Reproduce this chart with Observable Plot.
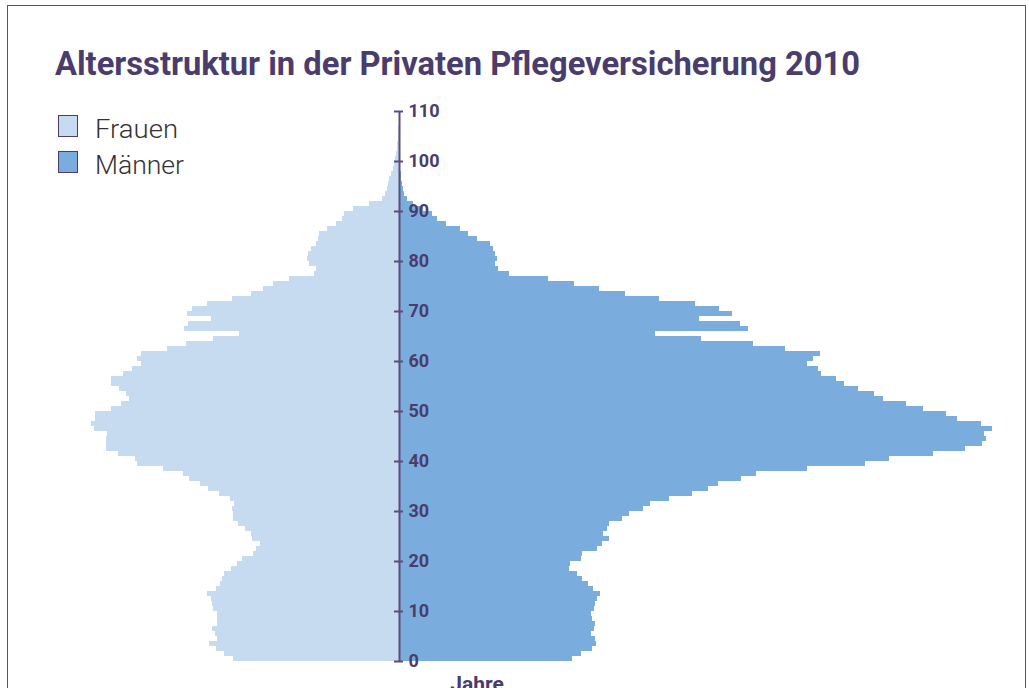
<!DOCTYPE html>
<html>
<head>
<meta charset="utf-8">
<script src="https://cdn.jsdelivr.net/npm/d3@7"></script>
<script src="https://cdn.jsdelivr.net/npm/@observablehq/plot@0.6"></script>
<style>
  html, body { margin: 0; padding: 0; background: #fff; overflow: hidden; }
  #wrap { position: relative; width: 1029px; height: 688px; overflow: hidden; }
  #frame { position: absolute; left: 7px; top: 5px; width: 1019px; height: 720px;
           border: 1.5px solid #5d4d7d; box-sizing: border-box; }
  #chart { position: absolute; left: 0; top: 0; }
  .fit { position: absolute; white-space: nowrap; transform-origin: 0 0; line-height: 1; }
  #title { left: 55px; top: 44px; font: 700 33px Roboto, sans-serif; color: #4a3c6c; }
  .sw { position: absolute; left: 58px; width: 20px; height: 22px; box-sizing: border-box;
        border: 1.5px solid #4a3c6c; }
  .lab { left: 95px; font: 300 26px Roboto, sans-serif; color: #333; }
</style>
</head>
<body>
<div id="wrap">
  <div id="frame"></div>
  <div id="chart"></div>
  <div id="title" class="fit" data-w="805">Altersstruktur in der Privaten Pflegeversicherung 2010</div>
  <div class="sw" id="sw0" style="top:115px"></div>
  <div class="lab fit" id="lab0" data-w="83" style="top:114px"></div>
  <div class="sw" id="sw1" style="top:151px"></div>
  <div class="lab fit" id="lab1" data-w="89" style="top:150px"></div>
</div>
<script>
// Series (categories)
const sexes = ["Frauen", "Männer"];
const colors = ["#c6dbf0", "#7aaddd"];
// Age categories 0..110 (one bar per year of age)
const ages = d3.range(0, 111);
// Frauen, age 0..110 (relative counts)
const frauen = [
  166,175,183,190,182,184,187,182,182,182,
  186,187,188,192,183,179,177,175,168,162,
  157,146,143,139,147,148,154,161,166,166,
  167,165,169,180,191,199,210,216,236,262,
  264,281,293,293,293,292,305,308,304,304,
  288,278,270,273,280,288,288,276,267,258,
  262,258,232,213,186,160,215,211,188,212,
  207,192,167,148,136,126,110,85,83,90,
  92,91,88,83,81,80,72,63,57,55,
  46,30,17,14,12,11,10,8,6,5,
  4,3,2.3,1.7,1.3,1,0.7,0.5,0.3,0.2,
  0.1
];
// Männer, age 0..110
const maenner = [
  173,182,193,197,196,192,195,196,193,192,
  195,196,198,201,194,189,183,178,170,171,
  182,183,198,203,210,204,208,210,223,230,
  244,251,270,293,309,319,342,357,408,466,
  490,534,566,583,587,585,593,582,558,547,
  524,507,484,475,459,445,437,422,419,408,
  414,421,386,354,302,256,349,341,300,333,
  320,296,260,226,200,175,149,110,99,96,
  98,96,94,91,78,69,61,47,38,33,
  24,14,8,5,3.5,2.5,2,1.5,1.2,1,
  0.8,0.6,0.5,0.4,0.3,0.2,0.2,0.1,0.1,0.1,
  0.1
];
const yTicks = [0,10,20,30,40,50,60,70,80,90,100,110];
const axisLabel = "Jahre";

const data = ages.flatMap((a, i) => [
  {age: a, sex: sexes[0], v: -frauen[i]},
  {age: a, sex: sexes[1], v: maenner[i]}
]);

const purple = "#4a3c6c";
const chart = Plot.plot({
  width: 1029, height: 688,
  marginTop: 0, marginBottom: 27, marginLeft: 0, marginRight: 0,
  x: {domain: [-399, 630], range: [0, 1029], axis: null},
  y: {domain: [0, 111], range: [661, 106], axis: null},
  color: {domain: sexes, range: colors},
  style: {background: "transparent", overflow: "visible"},
  marks: [
    Plot.rect(data, {x1: 0, x2: "v", y1: "age", y2: d => d.age + 1, fill: "sex", shapeRendering: "crispEdges"}),
    Plot.ruleX([0], {y1: 0, y2: 110, stroke: "#5d4d7d", strokeWidth: 2}),
    Plot.ruleY(yTicks, {y: d => d, x1: 0, x2: 0, insetLeft: -5, insetRight: -4, stroke: "#5d4d7d", strokeWidth: 2}),
    Plot.text(yTicks, {x: 0, y: d => d, text: d => String(d), dx: 9, textAnchor: "start",
      fill: purple, fontSize: 18, fontWeight: "bold", fontFamily: "Roboto"}),
    Plot.text([axisLabel], {frameAnchor: "bottom", lineAnchor: "top", dx: -38, dy: 15, text: d => d,
      fill: purple, fontSize: 21, fontWeight: "bold", fontFamily: "Roboto"})
  ]
});
document.getElementById("chart").appendChild(chart);

// legend
sexes.forEach((s, i) => {
  document.getElementById("sw" + i).style.background = colors[i];
  document.getElementById("lab" + i).textContent = s;
});

// fit condensed text widths
document.querySelectorAll(".fit").forEach(el => {
  const target = +el.dataset.w;
  const w = el.getBoundingClientRect().width;
  if (w > 0) el.style.transform = `scaleX(${target / w})`;
});
</script>
</body>
</html>
